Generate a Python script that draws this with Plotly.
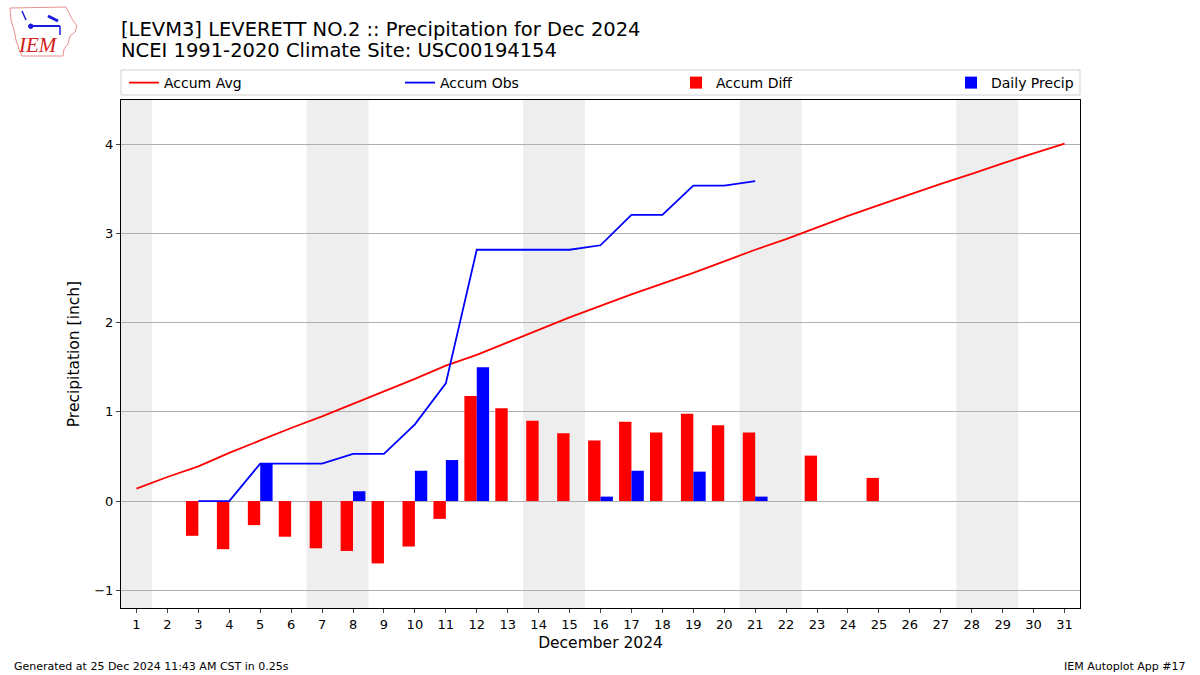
import datetime
import plotly.graph_objects as go

days = list(range(1, 32))
accum_avg = [0.14, 0.27, 0.39, 0.54, 0.68, 0.82, 0.95, 1.09, 1.23, 1.37, 1.52, 1.64, 1.78, 1.92, 2.06, 2.19,
             2.32, 2.44, 2.56, 2.69, 2.82, 2.94, 3.07, 3.20, 3.32, 3.44, 3.56, 3.67, 3.79, 3.90, 4.01]
obs_days = list(range(3, 22))
accum_obs = [0.0, 0.0, 0.42, 0.42, 0.42, 0.53, 0.53, 0.86, 1.32, 2.82, 2.82, 2.82, 2.82, 2.87,
             3.21, 3.21, 3.54, 3.54, 3.59]
diff_days = [3, 4, 5, 6, 7, 8, 9, 10, 11, 12, 13, 14, 15, 16, 17, 18, 19, 20, 21, 23, 25]
accum_diff = [-0.39, -0.54, -0.27, -0.40, -0.53, -0.56, -0.70, -0.51, -0.20, 1.18, 1.04, 0.90, 0.76,
              0.68, 0.89, 0.77, 0.98, 0.85, 0.77, 0.51, 0.26]
precip_days = [5, 8, 10, 11, 12, 16, 17, 19, 21]
daily_precip = [0.42, 0.11, 0.34, 0.46, 1.50, 0.05, 0.34, 0.33, 0.05]
y_ticks = [-1, 0, 1, 2, 3, 4]

FONT = "DejaVu Sans"
W, H = 1200, 675
L, R, T, B = 121, 120, 100, 67
PW, PH = W - L - R, H - T - B


def px(x):
    return (x - L) / PW


def py(y):
    return 1 - (y - T) / PH


fig = go.Figure()
fig.add_trace(go.Scatter(x=days, y=accum_avg, mode="lines", name="Accum Avg", showlegend=True,
                         line=dict(color="red", width=1.8), legend="legend"))
fig.add_trace(go.Scatter(x=obs_days, y=accum_obs, mode="lines", name="Accum Obs", showlegend=True,
                         line=dict(color="blue", width=1.8), legend="legend2"))
fig.add_trace(go.Bar(x=diff_days, y=accum_diff, name="Accum Diff", marker=dict(color="red", line=dict(width=0)),
                     width=0.4, offset=-0.4, legend="legend3", showlegend=True))
fig.add_trace(go.Bar(x=precip_days, y=daily_precip, name="Daily Precip", showlegend=True,
                     marker=dict(color="blue", line=dict(width=0)), width=0.4, offset=0, legend="legend4"))

# weekend shading
for d in days:
    wd = datetime.date(2024, 12, d).weekday()
    if wd in (5, 6):
        fig.add_vrect(x0=d - 0.5, x1=d + 0.5, fillcolor="#eeeeee", line_width=0, layer="below")

# legend frame
fig.add_shape(type="rect", xref="paper", yref="paper", x0=0, x1=1, y0=py(95), y1=py(70),
              line=dict(color="#d0d0d0", width=1), fillcolor="rgba(0,0,0,0)")

# logo (approximate)
iowa = [(10, 8), (66, 7), (69, 13), (72, 19), (77, 26), (75, 32), (70, 36), (68, 44), (64, 49),
        (63, 56), (22, 56), (19, 49), (16, 40), (14, 30), (11, 20)]
path = "M " + " L ".join(f"{px(a):.5f},{py(b):.5f}" for a, b in iowa) + " Z"
fig.add_shape(type="path", xref="paper", yref="paper", path=path, line=dict(color="#e89090", width=1))
fig.add_shape(type="line", xref="paper", yref="paper", x0=px(30), x1=px(60), y0=py(26), y1=py(26),
              line=dict(color="#1a1adc", width=2))
fig.add_shape(type="circle", xref="paper", yref="paper", x0=px(28.5), x1=px(33), y0=py(28.5), y1=py(24),
              line=dict(color="#1a1adc", width=1), fillcolor="#1a1adc")
fig.add_shape(type="line", xref="paper", yref="paper", x0=px(48), x1=px(58), y0=py(16), y1=py(21),
              line=dict(color="#1a1adc", width=3))
fig.add_shape(type="line", xref="paper", yref="paper", x0=px(60), x1=px(60), y0=py(26), y1=py(35),
              line=dict(color="#1a1adc", width=1.5))
fig.add_shape(type="line", xref="paper", yref="paper", x0=px(22), x1=px(26), y0=py(11), y1=py(20),
              line=dict(color="#1a1adc", width=1.5))
fig.add_annotation(text="<i>IEM</i>", xref="paper", yref="paper", x=px(38), y=py(45),
                   showarrow=False, font=dict(family="Liberation Serif", size=21, color="#d42020"),
                   xanchor="center", yanchor="middle")

fig.add_annotation(text="[LEVM3] LEVERETT NO.2 :: Precipitation for Dec 2024", xref="paper", yref="paper",
                   x=px(119), y=py(29), xanchor="left", yanchor="middle", showarrow=False,
                   font=dict(family=FONT, size=19.5, color="black"))
fig.add_annotation(text="NCEI 1991-2020 Climate Site: USC00194154", xref="paper", yref="paper",
                   x=px(119), y=py(51), xanchor="left", yanchor="middle", showarrow=False,
                   font=dict(family=FONT, size=19.5, color="black"))


def leg(text_x):
    return dict(orientation="h", x=px(text_x - 40), xanchor="left", y=py(67), yanchor="top",
                borderwidth=0, bgcolor="rgba(0,0,0,0)", font=dict(family=FONT, size=14), visible=True)


fig.update_layout(
    width=W, height=H,
    showlegend=True,
    paper_bgcolor="white", plot_bgcolor="white",
    margin=dict(l=L, r=R, t=T, b=B),
    barmode="overlay",
    font=dict(family=FONT, size=13, color="black"),
    legend=leg(164), legend2=leg(440), legend3=leg(716), legend4=leg(991),
    xaxis=dict(range=[0.5, 31.5], tickmode="array", tickvals=days, ticktext=[str(d) for d in days],
               ticks="outside", ticklen=4, showgrid=False, showline=True, linecolor="black", mirror=True,
               zeroline=False, title=dict(text="December 2024", font=dict(size=15.5), standoff=6),
               tickfont=dict(size=13)),
    yaxis=dict(range=[-1.2, 4.5], tickmode="array", tickvals=y_ticks,
               ticktext=[str(v).replace("-", "\u2212") for v in y_ticks],
               ticks="outside", ticklen=4, showgrid=True, gridcolor="#b0b0b0", gridwidth=1,
               showline=True, linecolor="black", mirror=True, zeroline=False,
               title=dict(text="Precipitation [inch]", font=dict(size=15.5), standoff=10),
               tickfont=dict(size=13)),
)

fig.add_annotation(text="Generated at 25 Dec 2024 11:43 AM CST in 0.25s", xref="paper", yref="paper",
                   x=px(12), y=py(666), xanchor="left", yanchor="middle",
                   showarrow=False, font=dict(size=11))
fig.add_annotation(text="IEM Autoplot App #17", xref="paper", yref="paper",
                   x=px(1188), y=py(666), xanchor="right", yanchor="middle",
                   showarrow=False, font=dict(size=11))

fig.write_html("out.html", config={"displayModeBar": False},
               post_script="document.body.style.margin='0';")
